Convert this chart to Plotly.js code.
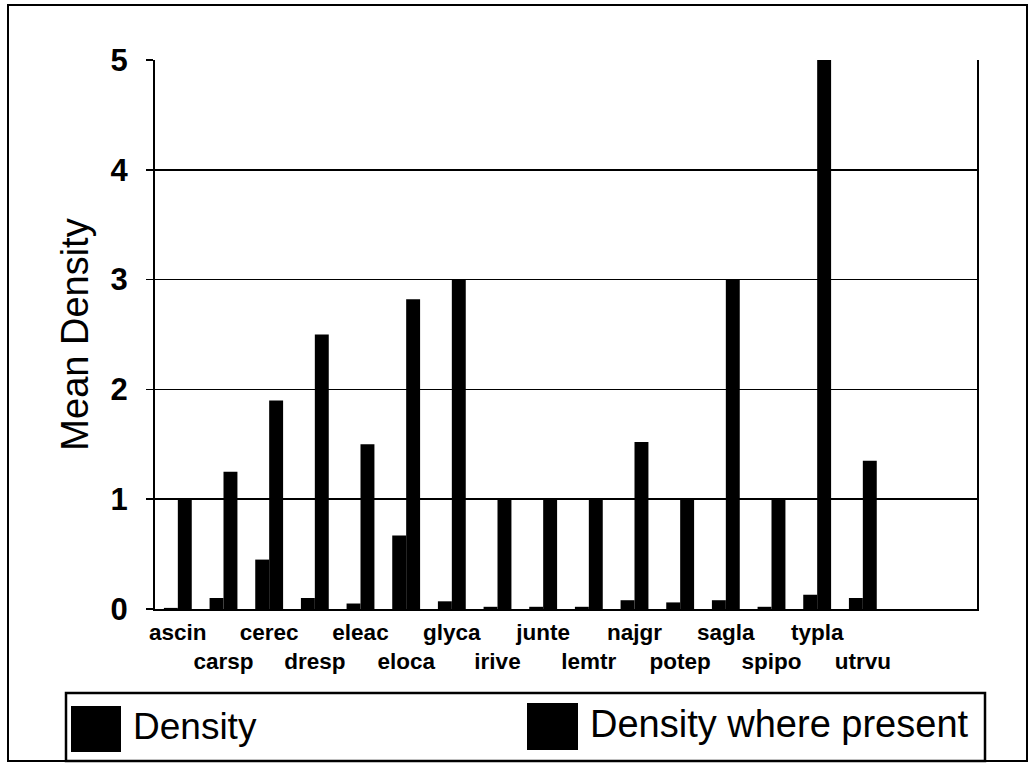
<!DOCTYPE html>
<html>
<head>
<meta charset="utf-8">
<script src="https://cdn.plot.ly/plotly-3.0.1.min.js"></script>
<style>html,body{margin:0;padding:0;background:#fff;}#chart{width:1029px;height:763px;}</style>
</head>
<body>
<div id="chart"></div>
<script>
const categories = ["ascin","carsp","cerec","dresp","eleac","eloca","glyca","irive","junte","lemtr","najgr","potep","sagla","spipo","typla","utrvu"];
const density = [0.01,0.1,0.45,0.1,0.05,0.67,0.07,0.02,0.02,0.02,0.08,0.06,0.08,0.02,0.13,0.1];
const densityWherePresent = [1.0,1.25,1.9,2.5,1.5,2.82,3.0,1.0,1.0,1.0,1.52,1.0,3.0,1.0,5.0,1.35];
const seriesNames = ["Density","Density where present"];
const yTicks = [0,1,2,3,4,5];
const emptySlots = 2;

const nSlots = categories.length + emptySlots;
const tickText = categories.map((c,i)=> i%2===0 ? c : "<br>"+c);
const boundaryVals = Array.from({length: nSlots+1}, (_,i)=> i-0.5);

const traces = [
  {type:"bar", name:seriesNames[0], x:categories, y:density, marker:{color:"#000"}, showlegend:false, hoverinfo:"x+y"},
  {type:"bar", name:seriesNames[1], x:categories, y:densityWherePresent, marker:{color:"#000"}, showlegend:false, hoverinfo:"x+y"}
];

const L=155, R=977, T=60, B=609, W=R-L, H=B-T;
const px = v => (v-L)/W, py = v => (B-v)/H;
const FONT = "Arial, 'Liberation Sans', sans-serif";

const layout = {
  width:1029, height:763,
  margin:{l:L, r:1029-R, t:T, b:763-B},
  paper_bgcolor:"#fff", plot_bgcolor:"#fff",
  barmode:"group", bargap:0.39, bargroupgap:0,
  font:{family:FONT, color:"#000"},
  xaxis:{
    type:"category", range:[-0.5, nSlots-0.5],
    tickmode:"array", tickvals:categories, ticktext:tickText, tickangle:0,
    ticks:"", showgrid:false, zeroline:false,
    showline:true, linecolor:"#000", linewidth:2,
    tickfont:{size:22.5, color:"#000", weight:"bold"}, ticklabelstandoff:2
  },
  xaxis2:{
    overlaying:"x", anchor:"y", side:"bottom", range:[-0.5, nSlots-0.5],
    tickmode:"array", tickvals:boundaryVals, ticktext:boundaryVals.map(()=>""),
    ticks:"outside", ticklen:8, tickwidth:1.5, tickcolor:"#000",
    showgrid:false, zeroline:false, showline:false, showticklabels:false
  },
  yaxis:{
    range:[0,5], tickmode:"array", tickvals:yTicks,
    ticks:"outside", ticklen:7, tickwidth:1.5, tickcolor:"#000",
    showgrid:true, gridcolor:"#000", gridwidth:1.5,
    zeroline:false, showline:true, linecolor:"#000", linewidth:2, mirror:true,
    tickfont:{size:31, color:"#000", weight:"bold"}, ticklabelstandoff:12,
    title:{text:"Mean Density", font:{size:38, color:"#000"}, standoff:10}
  },
  shapes:[
    {type:"rect", xref:"paper", yref:"paper", x0:px(8), x1:px(1027), y0:py(761), y1:py(5), line:{color:"#000", width:2}},
    {type:"rect", xref:"paper", yref:"paper", x0:px(66), x1:px(985), y0:py(761), y1:py(693), line:{color:"#000", width:2.5}, fillcolor:"rgba(0,0,0,0)"},
    {type:"rect", xref:"paper", yref:"paper", x0:px(71), x1:px(121), y0:py(752), y1:py(706), line:{width:0}, fillcolor:"#000"},
    {type:"rect", xref:"paper", yref:"paper", x0:px(527), x1:px(578), y0:py(750), y1:py(703), line:{width:0}, fillcolor:"#000"}
  ],
  annotations:[
    {xref:"paper", yref:"paper", x:px(131), y:py(726), xanchor:"left", yanchor:"middle", text:seriesNames[0], showarrow:false, font:{size:37, color:"#000"}},
    {xref:"paper", yref:"paper", x:px(588), y:py(724), xanchor:"left", yanchor:"middle", text:seriesNames[1], showarrow:false, font:{size:38, color:"#000"}}
  ]
};

Plotly.newPlot("chart", traces, layout, {displayModeBar:false, staticPlot:true});
</script>
</body>
</html>
